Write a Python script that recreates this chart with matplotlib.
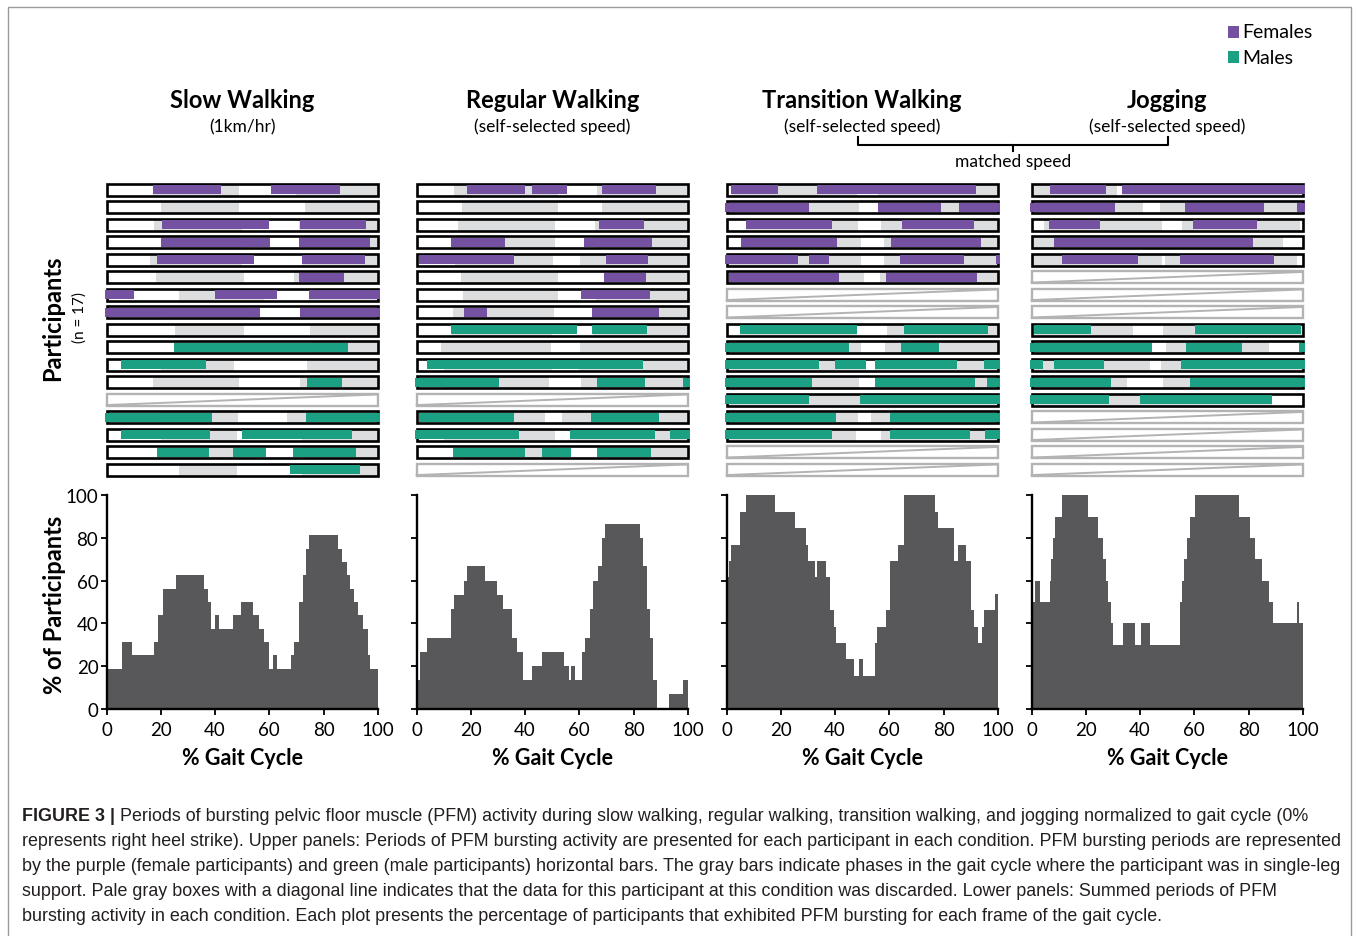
import matplotlib
matplotlib.use('Agg')
import matplotlib.pyplot as plt
from matplotlib.patches import Rectangle
from matplotlib.lines import Line2D
from matplotlib import font_manager

W, H = 1358, 937
installed = {f.name for f in font_manager.fontManager.ttflist}
main_font = [f for f in ['Lato', 'Open Sans', 'DejaVu Sans'] if f in installed]
cap_font = [f for f in ['Liberation Sans Narrow', 'Liberation Sans', 'DejaVu Sans'] if f in installed]
plt.rcParams['font.family'] = main_font

# ---- data -------------------------------------------------------------
conditions = ['Slow Walking', 'Regular Walking', 'Transition Walking', 'Jogging']
subtitles = ['(1km/hr)', '(self-selected speed)', '(self-selected speed)', '(self-selected speed)']
n_females = 8  # rows 1-8 females, rows 9-17 males

# single-leg support phases (% gait cycle), None = discarded
slow_support = [
    [(17, 49), (70, 100)], [(20, 49), (73, 100)], [(17.5, 50), (71, 100)], [(20.5, 50), (71, 100)],
    [(16, 50), (72, 100)], [(18.2, 50.7), (69.2, 100)], [(26.5, 58), (74.5, 100)], [(20, 52), (72, 100)],
    [(25.2, 50.5), (74.9, 100)], [(25, 50), (75, 100)], [(20, 46.8), (73.9, 100)], [(17.2, 49), (71.4, 100)],
    None, [(20, 48.6), (66.7, 100)], [(20, 48), (72, 100)], [(19, 50), (72, 100)], [(26.5, 48), (72, 100)],
]
slow_bursts = [
    [(17, 42), (60.8, 86)], [], [(20.4, 60), (71.4, 95.6)], [(20.2, 60.4), (71, 97.3)],
    [(18.7, 54.4), (72, 95.2)], [(71, 87.7)], [(0, 9.9), (40, 63), (74.5, 100)], [(0, 56.7), (71.4, 100)],
    [], [(24.9, 89)], [(5.4, 36.5)], [(73.9, 86.7)],
    None, [(0, 38.8), (73.6, 100)], [(5.2, 38.2), (49.9, 90.6)], [(18.5, 37.9), (46.6, 58.6), (68.7, 92)], [(67.7, 93.3)],
]

regular_support = [
    [(13.9, 52), (66.5, 100)], [(16.7, 52.3), (68.5, 100)], [(15.3, 50.9), (65.8, 100)], [(13, 50.9), (66, 100)],
    [(14, 50.2), (60.1, 100)], [(16.5, 52), (69, 100)], [(17, 52), (66, 100)], [(13.5, 50.5), (64.8, 100)],
    [(13, 50), (65, 100)], [(9.1, 49.4), (60.3, 100)], [(10, 50), (60, 100)], [(10, 49), (60.8, 100)],
    None, [(8, 47.5), (53.7, 100)], [(10, 50.9), (56.7, 100)], [(14, 52), (66.7, 100)], None,
]
regular_bursts = [
    [(18.5, 40), (42.6, 55.3), (68.5, 88.2)], [], [(67.2, 84)], [(12.6, 32.5), (61.6, 86.7)],
    [(1, 35.8), (70, 85.2)], [(69, 84.5)], [(60.8, 86)], [(17.6, 26), (64.8, 89.3)],
    [(12.8, 59.2), (64.8, 85)], [], [(3.7, 83.5)], [(0, 30.3), (66.7, 84.2), (98.3, 100)],
    None, [(1, 36), (64.2, 89.4)], [(0, 37.7), (56.7, 88), (93.3, 100)],
    [(13.5, 39.9), (46.3, 56.8), (66.7, 86.5)], None,
]

transition_support = [
    [(2, 48), (56, 100)], [(0, 49), (55.7, 100)], [(7.1, 48.5), (56.9, 100)], [(5.3, 49.5), (58.1, 100)],
    [(0, 49.5), (57.9, 100)], [(0.7, 50.5), (56.4, 100)], None, None,
    [(5, 48.2), (59.1, 100)], [(0, 49.5), (58.4, 100)], [(0, 51.4), (54.9, 100)], [(0, 49), (54.9, 100)],
    [(0, 49.3), (49.3, 100)], [(0, 48.5), (53.4, 100)], [(0, 47.8), (56.9, 100)], None, None,
]
transition_bursts = [
    [(1.7, 19), (33.3, 91.9)], [(0, 30.3), (55.7, 79.2), (85.7, 100)], [(7.1, 38.8), (64.8, 91.4)],
    [(5.3, 40.6), (60.8, 93.8)], [(0, 26.4), (30.3, 37.9), (63.8, 87.7), (99.4, 100)], [(0.7, 41.6), (58.9, 92.5)],
    None, None,
    [(4.9, 48.2), (65.6, 96.4)], [(0.2, 45), (64.4, 78.4)], [(0, 33.9), (40, 51.4), (54.9, 85.1), (94.8, 100)],
    [(0, 31.3), (54.9, 91.6), (96, 100)], [(0.2, 30.5), (49.3, 100)], [(0, 40.4), (60.1, 100)],
    [(0.2, 38.8), (60.3, 89.7), (95.3, 100)], None, None,
]

jogging_support = [
    [(0, 31.5), (33.5, 100)], [(0, 41.1), (47.3, 100)], [(4.7, 48), (55.4, 99)], [(0, 46), (46, 92.6)],
    [(0, 48), (49.3, 98)], None, None, None,
    [(1, 37.2), (48.3, 100)], [(0, 44.3), (49.5, 87.7)], [(0, 43.6), (47.8, 100)], [(0, 35.2), (48.3, 100)],
    [(0, 40.1), (40.1, 88.8)], None, None, None, None,
]
jogging_bursts = [
    [(6.9, 27.3), (33.5, 100)], [(0, 30.9), (56.4, 85.8), (97.8, 100)], [(6.4, 25.1), (59.6, 83.3)],
    [(8.1, 81.5)], [(11.1, 39.2), (54.9, 89.4)], None, None, None,
    [(1, 21.7), (60.3, 99.5)], [(0, 44.3), (57.1, 77.5), (98.8, 100)], [(0, 4.1), (8.1, 26.7), (55.2, 100)],
    [(0, 29.2), (58.3, 100)], [(0, 28.7), (40.1, 88.8)], None, None, None, None,
]

# summed bursting (% of participants) as step edges / values
slow_edges = [0, 5.5, 9.4, 17.3, 19, 20.7, 25.4, 35.9, 37.2, 38.4, 40.1, 41.3, 46.7, 49.7, 53.9, 56.3, 58,
              59.8, 61.2, 62.7, 68.1, 69.1, 70.8, 72.3, 73.7, 74.5, 85.3, 86.7, 88.5, 89.9, 91.4, 92.9,
              94.6, 96.3, 97.1, 100]
slow_pct = [18.75, 31.25, 25, 31.25, 43.75, 56.25, 62.5, 56.25, 50, 37.5, 43.75, 37.5, 43.75, 50, 43.75,
            37.5, 31.25, 18.75, 25, 18.75, 25, 31.25, 50, 62.5, 75, 81.25, 75, 68.75, 62.5, 56.25, 50,
            43.75, 37.5, 25, 18.75]

regular_edges = [0, 1.2, 3.7, 12.5, 13.8, 17.6, 18.6, 25.2, 29.5, 31.7, 35.1, 37, 39.2, 42.7, 46.4, 54.2,
                 56.2, 56.8, 58.4, 60.9, 62.1, 64.1, 65.1, 67, 68.3, 69.6, 82.5, 83.4, 85, 86.1, 87.3,
                 88.5, 93.2, 98.2, 100]
regular_pct = [13.33, 26.67, 33.33, 46.67, 53.33, 60, 66.67, 60, 53.33, 46.67, 33.33, 26.67, 13.33, 20,
               26.67, 20, 13.33, 20, 13.33, 26.67, 33.33, 46.67, 60, 66.67, 80, 86.67, 80, 66.67, 46.67,
               33.33, 13.33, 0, 6.67, 13.33]

transition_edges = [0, 0.4, 0.9, 1.6, 5.0, 7.0, 17.8, 25.2, 29.2, 30.1, 32.6, 33.3, 36.8, 38.0, 39.5,
                    40.2, 43.9, 47.1, 48.8, 50.3, 54.7, 55.5, 58.7, 60.4, 63.3, 65.3, 76.9, 78.1, 84.0,
                    85.2, 88.2, 90.2, 91.4, 92.9, 94.1, 95.1, 99.0, 100]
transition_pct = [53.8, 61.5, 69.2, 76.9, 92.3, 100, 92.3, 84.6, 76.9, 69.2, 61.5, 69.2, 61.5, 46.2, 38.5,
                  30.8, 23.1, 15.4, 23.1, 15.4, 30.8, 38.5, 46.2, 69.2, 76.9, 100, 92.3, 84.6, 69.2,
                  76.9, 69.2, 46.2, 38.5, 30.8, 38.5, 46.2, 53.8]

jogging_edges = [0, 1.2, 3.1, 6.8, 7.3, 7.9, 8.5, 11.1, 20.9, 24.5, 26.2, 27.4, 28.3, 29.2, 30.1, 33.6,
                 38.3, 40.2, 43.7, 54.7, 55.5, 56.2, 57.2, 58.4, 60.4, 76.4, 80.6, 82.5, 85.0, 87.5,
                 88.9, 98.0, 98.8, 100]
jogging_pct = [50, 60, 50, 60, 70, 80, 90, 100, 90, 80, 70, 60, 50, 40, 30, 40, 30, 40, 30, 50, 60, 70,
               80, 90, 100, 90, 80, 70, 60, 50, 40, 50, 40]

support = [slow_support, regular_support, transition_support, jogging_support]
bursts = [slow_bursts, regular_bursts, transition_bursts, jogging_bursts]
edges = [slow_edges, regular_edges, transition_edges, jogging_edges]
pcts = [slow_pct, regular_pct, transition_pct, jogging_pct]

# ---- style ------------------------------------------------------------
purple = '#7452a1'
green = '#1ba083'
pale = '#dcdddf'
dark = '#58585a'
discard = '#b3b3b5'

col_x = [(106.7, 377.7), (416.7, 687.7), (726.7, 997.7), (1031.7, 1302.7)]


def fx(px):
    return px / W


def fy(py):
    return 1 - py / H


def add_ax(x0, x1, ytop, ybot):
    return fig.add_axes([fx(x0), fy(ybot), (x1 - x0) / W, (ybot - ytop) / H])


fig = plt.figure(figsize=(W / 100, H / 100), dpi=100)

box_h = 0.686
bar_h = 0.50
for c in range(4):
    x0, x1 = col_x[c]
    # upper panel: one row per participant
    ax = add_ax(x0, x1, 182, 479.5)
    ax.set_xlim(0, 100)
    ax.set_ylim(16.5, -0.5)
    ax.axis('off')
    for r in range(17):
        sup = support[c][r]
        if sup is None:
            ax.add_patch(Rectangle((0, r - box_h / 2), 100, box_h, facecolor='white',
                                   edgecolor=discard, lw=1.7, clip_on=False, zorder=2))
            ax.plot([0, 100], [r + box_h / 2 - 0.04, r - box_h / 2 + 0.04], color=discard,
                    lw=1.4, clip_on=False, zorder=2)
            continue
        for s, e in sup:
            ax.add_patch(Rectangle((s, r - box_h / 2), e - s, box_h, facecolor=pale,
                                   edgecolor='none', clip_on=False, zorder=1))
        ax.add_patch(Rectangle((0, r - box_h / 2), 100, box_h, facecolor='none',
                               edgecolor='black', lw=1.9, clip_on=False, zorder=2))
        color = purple if r < n_females else green
        for s, e in bursts[c][r]:
            s = -0.8 if s <= 0.3 else s
            e = 100.8 if e >= 99.7 else e
            ax.add_patch(Rectangle((s, r - bar_h / 2), e - s, bar_h, facecolor=color,
                                   edgecolor='none', clip_on=False, zorder=3))

    # lower panel: summed bursting
    ax2 = add_ax(x0, x1, 496.3, 709.7)
    ax2.stairs(pcts[c], edges[c], fill=True, color=dark, baseline=0)
    ax2.set_xlim(0, 100)
    ax2.set_ylim(0, 100)
    ax2.set_xticks([0, 20, 40, 60, 80, 100])
    ax2.set_yticks([0, 20, 40, 60, 80, 100])
    for side in ['top', 'right']:
        ax2.spines[side].set_visible(False)
    for side in ['left', 'bottom']:
        ax2.spines[side].set_linewidth(1.7)
    ax2.tick_params(direction='out', length=4, width=1.3, labelsize=13.5)
    ax2.tick_params(axis='x', pad=5)
    ax2.tick_params(axis='y', pad=2)
    if c > 0:
        ax2.set_yticklabels([])
    ax2.set_xlabel('% Gait Cycle', fontsize=15.5, fontweight='bold', labelpad=6)

    xc = (x0 + x1) / 2
    fig.text(fx(xc), fy(101), conditions[c], fontsize=17, fontweight='bold', ha='center', va='center')
    fig.text(fx(xc), fy(127), subtitles[c], fontsize=12.5, ha='center', va='center')

# axis titles
fig.text(fx(53), fy(318), 'Participants', rotation=90, fontsize=17, fontweight='bold', ha='center', va='center')
fig.text(fx(80), fy(318), '(n = 17)', rotation=90, fontsize=11, ha='center', va='center')
fig.text(fx(55), fy(605), '% of Participants', rotation=90, fontsize=17, fontweight='bold', ha='center', va='center')

# matched speed bracket
for xs, ys in [([858, 858, 1168, 1168], [138, 146, 146, 138]), ([1013, 1013], [146, 152])]:
    fig.add_artist(Line2D([fx(v) for v in xs], [fy(v) for v in ys], color='black', lw=1.5))
fig.text(fx(1013), fy(162), 'matched speed', fontsize=12.5, ha='center', va='center')

# legend
for lab, col, yy in [('Females', purple, 33), ('Males', green, 58)]:
    fig.add_artist(Rectangle((fx(1228), fy(yy + 6)), 11 / W, 12 / H, facecolor=col, edgecolor='none',
                             transform=fig.transFigure))
    fig.text(fx(1242), fy(yy), lab, fontsize=14, ha='left', va='center')

# frame
fig.add_artist(Rectangle((fx(8), fy(945)), (1351 - 8) / W, (945 - 8) / H, facecolor='none',
                         edgecolor='#9a9a9a', lw=1, transform=fig.transFigure))

# caption
cap_lines = [
    ' Periods of bursting pelvic floor muscle (PFM) activity during slow walking, regular walking, transition walking, and jogging normalized to gait cycle (0%',
    'represents right heel strike). Upper panels: Periods of PFM bursting activity are presented for each participant in each condition. PFM bursting periods are represented',
    'by the purple (female participants) and green (male participants) horizontal bars. The gray bars indicate phases in the gait cycle where the participant was in single-leg',
    'support. Pale gray boxes with a diagonal line indicates that the data for this participant at this condition was discarded. Lower panels: Summed periods of PFM',
    'bursting activity in each condition. Each plot presents the percentage of participants that exhibited PFM bursting for each frame of the gait cycle.',
]
cap_color = '#231f20'
fig.canvas.draw()
rend = fig.canvas.get_renderer()
probe = fig.text(0, 0, cap_lines[1], fontsize=12.5, family=cap_font)
wid = probe.get_window_extent(rend).width
probe.remove()
cap_fs = 12.5 * (1340 - 22) / wid
head = fig.text(fx(22), fy(817), 'FIGURE 3 |', fontsize=cap_fs, fontweight='bold', family=cap_font,
                color=cap_color, va='center')
hw = head.get_window_extent(rend).width
fig.text(fx(22 + hw), fy(817), cap_lines[0], fontsize=cap_fs, family=cap_font, color=cap_color, va='center')
for i, line in enumerate(cap_lines[1:]):
    fig.text(fx(22), fy(842 + 25 * i), line, fontsize=cap_fs, family=cap_font, color=cap_color, va='center')

fig.savefig('out.png', dpi=100)
